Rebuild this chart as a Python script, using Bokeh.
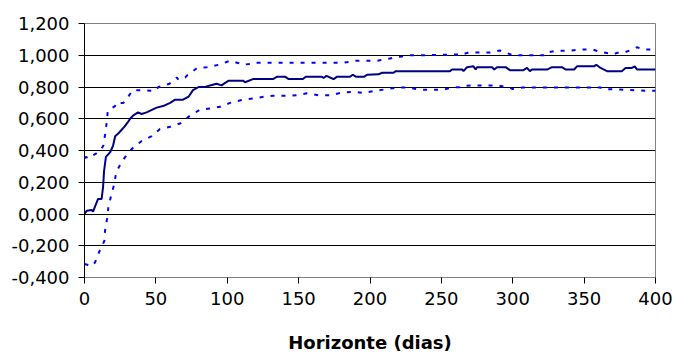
from bokeh.plotting import figure
from bokeh.models import Range1d, FixedTicker, CustomJSTickFormatter
from bokeh.embed import file_html
from bokeh.resources import INLINE

# ---- data ----
x_ticks = [0, 50, 100, 150, 200, 250, 300, 350, 400]
y_ticks = [-0.4, -0.2, 0.0, 0.2, 0.4, 0.6, 0.8, 1.0, 1.2]

center_x = [0, 1.5, 5, 6, 7.5, 9.5, 12, 13, 13.7, 15, 18, 20, 21.5, 24, 28, 30.5, 32, 34,
            37.5, 40, 43.5, 50.5, 55, 60, 63.5, 69, 73, 76, 80, 84.5, 88, 92.5, 96, 97.5,
            101, 111, 112.5, 118, 132, 135, 140.5, 143, 153, 155, 166, 167.5, 169.5, 172,
            174.5, 177, 186, 188, 190, 196, 198, 206, 208.5, 216.5, 218, 256, 257.5, 264.5,
            265.5, 268, 272.5, 274, 275, 285.5, 287, 289, 295, 298, 307.5, 310, 312, 313.5,
            324, 327.5, 334.5, 337, 343, 345, 357, 358.5, 361.5, 366, 376.5, 379, 383.5,
            385.5, 387, 400]
center_y = [0.0, 0.02, 0.025, 0.015, 0.05, 0.095, 0.095, 0.17, 0.27, 0.36, 0.39, 0.43, 0.49,
            0.51, 0.55, 0.58, 0.60, 0.62, 0.64, 0.63, 0.64, 0.67, 0.68, 0.70, 0.72, 0.72, 0.74,
            0.78, 0.80, 0.80, 0.81, 0.82, 0.81, 0.82, 0.84, 0.84, 0.83, 0.85, 0.85, 0.865,
            0.865, 0.85, 0.85, 0.865, 0.865, 0.857, 0.87, 0.86, 0.85, 0.865, 0.865, 0.877,
            0.865, 0.865, 0.877, 0.88, 0.89, 0.89, 0.90, 0.90, 0.91, 0.91, 0.90, 0.925, 0.93,
            0.91, 0.925, 0.925, 0.91, 0.925, 0.925, 0.906, 0.906, 0.92, 0.90, 0.91, 0.91,
            0.925, 0.925, 0.91, 0.91, 0.93, 0.93, 0.94, 0.92, 0.90, 0.90, 0.92, 0.92, 0.93,
            0.91, 0.91]

upper_x = [0, 1, 3, 6, 8, 11, 13.2, 14.4, 15.6, 16.3, 21.4, 22, 27.2, 30.7, 33.8, 41.2,
           49.4, 51.8, 57.6, 59.5, 64.7, 65.8, 70.5, 72.1, 77.5, 78.7, 85.7, 94, 102, 108,
           110, 116, 118, 125, 181, 190, 205, 214, 221, 228.5, 236.5, 261, 263, 269, 284,
           291, 298, 300, 322, 323, 331, 340, 347, 356, 361.5, 364, 371, 373, 378, 385, 387,
           392, 400]
upper_y = [0.35, 0.36, 0.35, 0.37, 0.38, 0.40, 0.43, 0.50, 0.58, 0.65, 0.68, 0.70, 0.70,
           0.74, 0.78, 0.78, 0.775, 0.80, 0.815, 0.82, 0.86, 0.845, 0.86, 0.875, 0.91, 0.92,
           0.925, 0.94, 0.965, 0.95, 0.94, 0.945, 0.952, 0.952, 0.952, 0.965, 0.965, 0.98,
           0.99, 1.0, 1.0, 1.005, 1.0, 1.017, 1.017, 1.03, 1.007, 1.0, 1.0, 1.017, 1.028,
           1.028, 1.036, 1.036, 1.02, 1.017, 1.007, 1.015, 1.017, 1.04, 1.05, 1.036, 1.036]

lower_x = [0, 2, 4.3, 7.4, 10.2, 13.9, 14.4, 16, 16.7, 18.6, 20.9, 22.1, 26.1, 30.3, 34.2,
           40.1, 47.1, 52.9, 60, 67, 74, 81, 88, 95, 102, 110, 118.4, 125.4, 132.4, 140.6,
           148.8, 155.8, 164, 172, 180.4, 188, 196, 202.5, 210.7, 218.9, 227, 235.3, 251,
           258.2, 265.6, 267.6, 274, 289.6, 297.7, 300, 307, 361.5, 362.7, 377.8, 385.3,
           393.7, 400]
lower_y = [-0.315, -0.32, -0.33, -0.305, -0.24, -0.17, -0.105, -0.02, 0.04, 0.115, 0.19,
           0.26, 0.33, 0.38, 0.42, 0.46, 0.49, 0.535, 0.55, 0.57, 0.62, 0.657, 0.665, 0.675,
           0.70, 0.718, 0.728, 0.738, 0.745, 0.745, 0.748, 0.76, 0.748, 0.748, 0.765, 0.77,
           0.762, 0.775, 0.785, 0.797, 0.797, 0.783, 0.783, 0.797, 0.80, 0.808, 0.81, 0.81,
           0.797, 0.787, 0.797, 0.797, 0.787, 0.783, 0.78, 0.776, 0.776]

x_title = "Horizonte (dias)"

FONT = "DejaVu Sans"

p = figure(width=673, height=363, output_backend="svg", toolbar_location=None,
           x_range=Range1d(0, 400), y_range=Range1d(-0.4, 1.2),
           min_border_left=84, min_border_right=18, min_border_top=23, min_border_bottom=86)
p.background_fill_color = "white"
p.border_fill_color = "white"
p.outline_line_color = "#808080"
p.outline_line_width = 1

p.line(upper_x, upper_y, line_color="#0000FF", line_width=2, line_dash="4 7")
p.line(lower_x, lower_y, line_color="#0000FF", line_width=2, line_dash="4 7")
p.line(center_x, center_y, line_color="#000080", line_width=2)

p.xgrid.visible = False
p.ygrid.grid_line_color = "black"
p.ygrid.grid_line_width = 1
p.ygrid.ticker = FixedTicker(ticks=y_ticks)

p.xaxis.ticker = FixedTicker(ticks=x_ticks)
p.yaxis.ticker = FixedTicker(ticks=y_ticks)
p.yaxis.formatter = CustomJSTickFormatter(code="return tick.toFixed(3).replace('.', ',');")

for ax in (p.xaxis[0], p.yaxis[0]):
    ax.major_label_text_font = FONT
    ax.major_label_text_font_size = "18px"
    ax.major_label_text_color = "black"
    ax.minor_tick_line_color = None
    ax.major_tick_in = 0
    ax.major_tick_out = 6
    ax.major_tick_line_color = "black"

p.yaxis.axis_line_color = "black"
p.yaxis.major_label_standoff = 9
p.xaxis.axis_line_color = "#808080"
p.xaxis.major_label_standoff = 8

p.xaxis.axis_label = x_title
p.xaxis.axis_label_text_font = FONT
p.xaxis.axis_label_text_font_style = "bold"
p.xaxis.axis_label_text_font_size = "18px"
p.xaxis.axis_label_text_color = "black"
p.xaxis.axis_label_standoff = 24

open("out.html", "w").write(file_html(p, INLINE))
